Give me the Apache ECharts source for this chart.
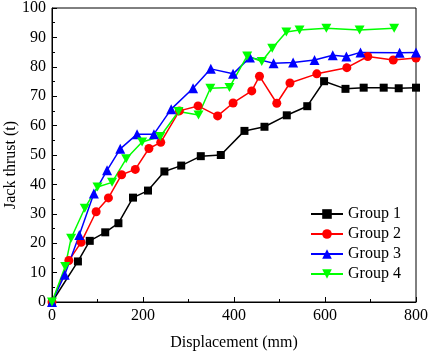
<!DOCTYPE html>
<html>
<head>
<meta charset="utf-8" />
<title>Jack thrust vs displacement</title>
<style>
  html, body { margin: 0; padding: 0; background: #fff; }
  #chart { width: 429px; height: 354px; }
</style>
</head>
<body>
<div id="chart"></div>
<script src="https://cdn.jsdelivr.net/npm/echarts@6/dist/echarts.min.js"></script>
<script>
var names = ['Group 1', 'Group 2', 'Group 3', 'Group 4'];
var colors = ['#000000', '#ff0000', '#0000ff', '#00ff00'];
var symbols = ['rect', 'circle', 'triangle', 'path://M0,0 L10,0 L5,9 Z'];
var symbolSizes = [8, 9, 10, [10, 9]];

var g1x = [0, 57, 83, 117, 146, 178, 211, 247, 284, 327, 371, 423, 467, 516, 561, 598, 645, 685, 729, 762, 800];
var g1y = [0, 13.8, 20.8, 23.7, 26.8, 35.5, 37.9, 44.4, 46.4, 49.6, 50.0, 58.2, 59.6, 63.5, 66.6, 75.1, 72.5, 72.9, 72.9, 72.7, 72.9];
var g2x = [0, 37, 64, 97, 124, 153, 183, 213, 239, 280, 321, 364, 398, 439, 456, 494, 523, 582, 648, 694, 750, 800];
var g2y = [0, 14.1, 20.3, 30.7, 35.4, 43.3, 45.1, 52.2, 54.3, 65.0, 66.7, 63.3, 67.7, 71.8, 76.8, 67.6, 74.5, 77.6, 79.7, 83.5, 82.3, 83.0];
var g3x = [0, 28, 60, 92, 121, 150, 187, 224, 262, 310, 349, 398, 435, 487, 530, 577, 617, 647, 678, 764, 800];
var g3y = [0, 9.3, 22.8, 36.9, 44.8, 52.1, 57.1, 57.1, 65.6, 72.7, 79.3, 77.6, 83.2, 81.2, 81.5, 82.3, 83.9, 83.5, 84.9, 84.8, 84.9];
var g4x = [0, 29, 42, 72, 100, 132, 163, 198, 238, 278, 322, 348, 390, 429, 461, 484, 515, 544, 603, 676, 752];
var g4y = [0, 12.1, 21.7, 31.9, 39.1, 40.7, 48.7, 54.4, 56.3, 64.8, 63.6, 72.7, 73.0, 83.7, 81.8, 86.3, 91.8, 92.5, 93.1, 92.5, 93.1];

var xs = [g1x, g2x, g3x, g4x];
var ys = [g1y, g2y, g3y, g4y];

function pairs(x, y) {
  var out = [];
  for (var i = 0; i < x.length; i++) out.push([x[i], y[i]]);
  return out;
}

var font = '"Liberation Serif", "DejaVu Serif", serif';

var series = names.map(function (n, i) {
  return {
    name: n,
    type: 'line',
    data: pairs(xs[i], ys[i]),
    symbol: symbols[i],
    symbolSize: symbolSizes[i],
    showAllSymbol: true,
    lineStyle: { color: colors[i], width: 1.5 },
    itemStyle: { color: colors[i] },
    emphasis: { disabled: true },
    animation: false
  };
});

var chart = echarts.init(document.getElementById('chart'));
chart.setOption({
  animation: false,
  grid: {
    left: 52, top: 8, right: 13, bottom: 52,
    outerBoundsMode: 'none',
    containLabel: false,
    show: true, borderColor: '#000', borderWidth: 1
  },
  legend: {
    orient: 'vertical',
    left: 310, top: 206,
    padding: 0,
    itemWidth: 32, itemHeight: 12,
    itemGap: 4,
    textStyle: { fontFamily: font, fontSize: 16, color: '#000' },
    data: names
  },
  xAxis: {
    type: 'value',
    min: 0, max: 800, interval: 200,
    name: 'Displacement (mm)',
    nameLocation: 'middle',
    nameGap: 33,
    nameMoveOverlap: false,
    nameTextStyle: { fontFamily: font, fontSize: 16, color: '#000' },
    axisLine: { lineStyle: { color: '#000', width: 1 } },
    axisTick: { inside: true, length: 5, lineStyle: { color: '#000' } },
    minorTick: { show: true, splitNumber: 2, length: 3, lineStyle: { color: '#000' } },
    axisLabel: { fontFamily: font, fontSize: 16, color: '#000', margin: 6 },
    splitLine: { show: false }
  },
  yAxis: {
    type: 'value',
    min: 0, max: 100, interval: 10,
    name: 'Jack thrust (t)',
    nameLocation: 'middle',
    nameGap: 33,
    nameMoveOverlap: false,
    nameTextStyle: { fontFamily: font, fontSize: 16, color: '#000', padding: [0, 20, 0, 0] },
    axisLine: { lineStyle: { color: '#000', width: 1 } },
    axisTick: { inside: true, length: 5, lineStyle: { color: '#000' } },
    minorTick: { show: true, splitNumber: 2, length: 3, lineStyle: { color: '#000' } },
    axisLabel: { fontFamily: font, fontSize: 16, color: '#000', margin: 6 },
    splitLine: { show: false }
  },
  series: series
});
</script>
</body>
</html>
